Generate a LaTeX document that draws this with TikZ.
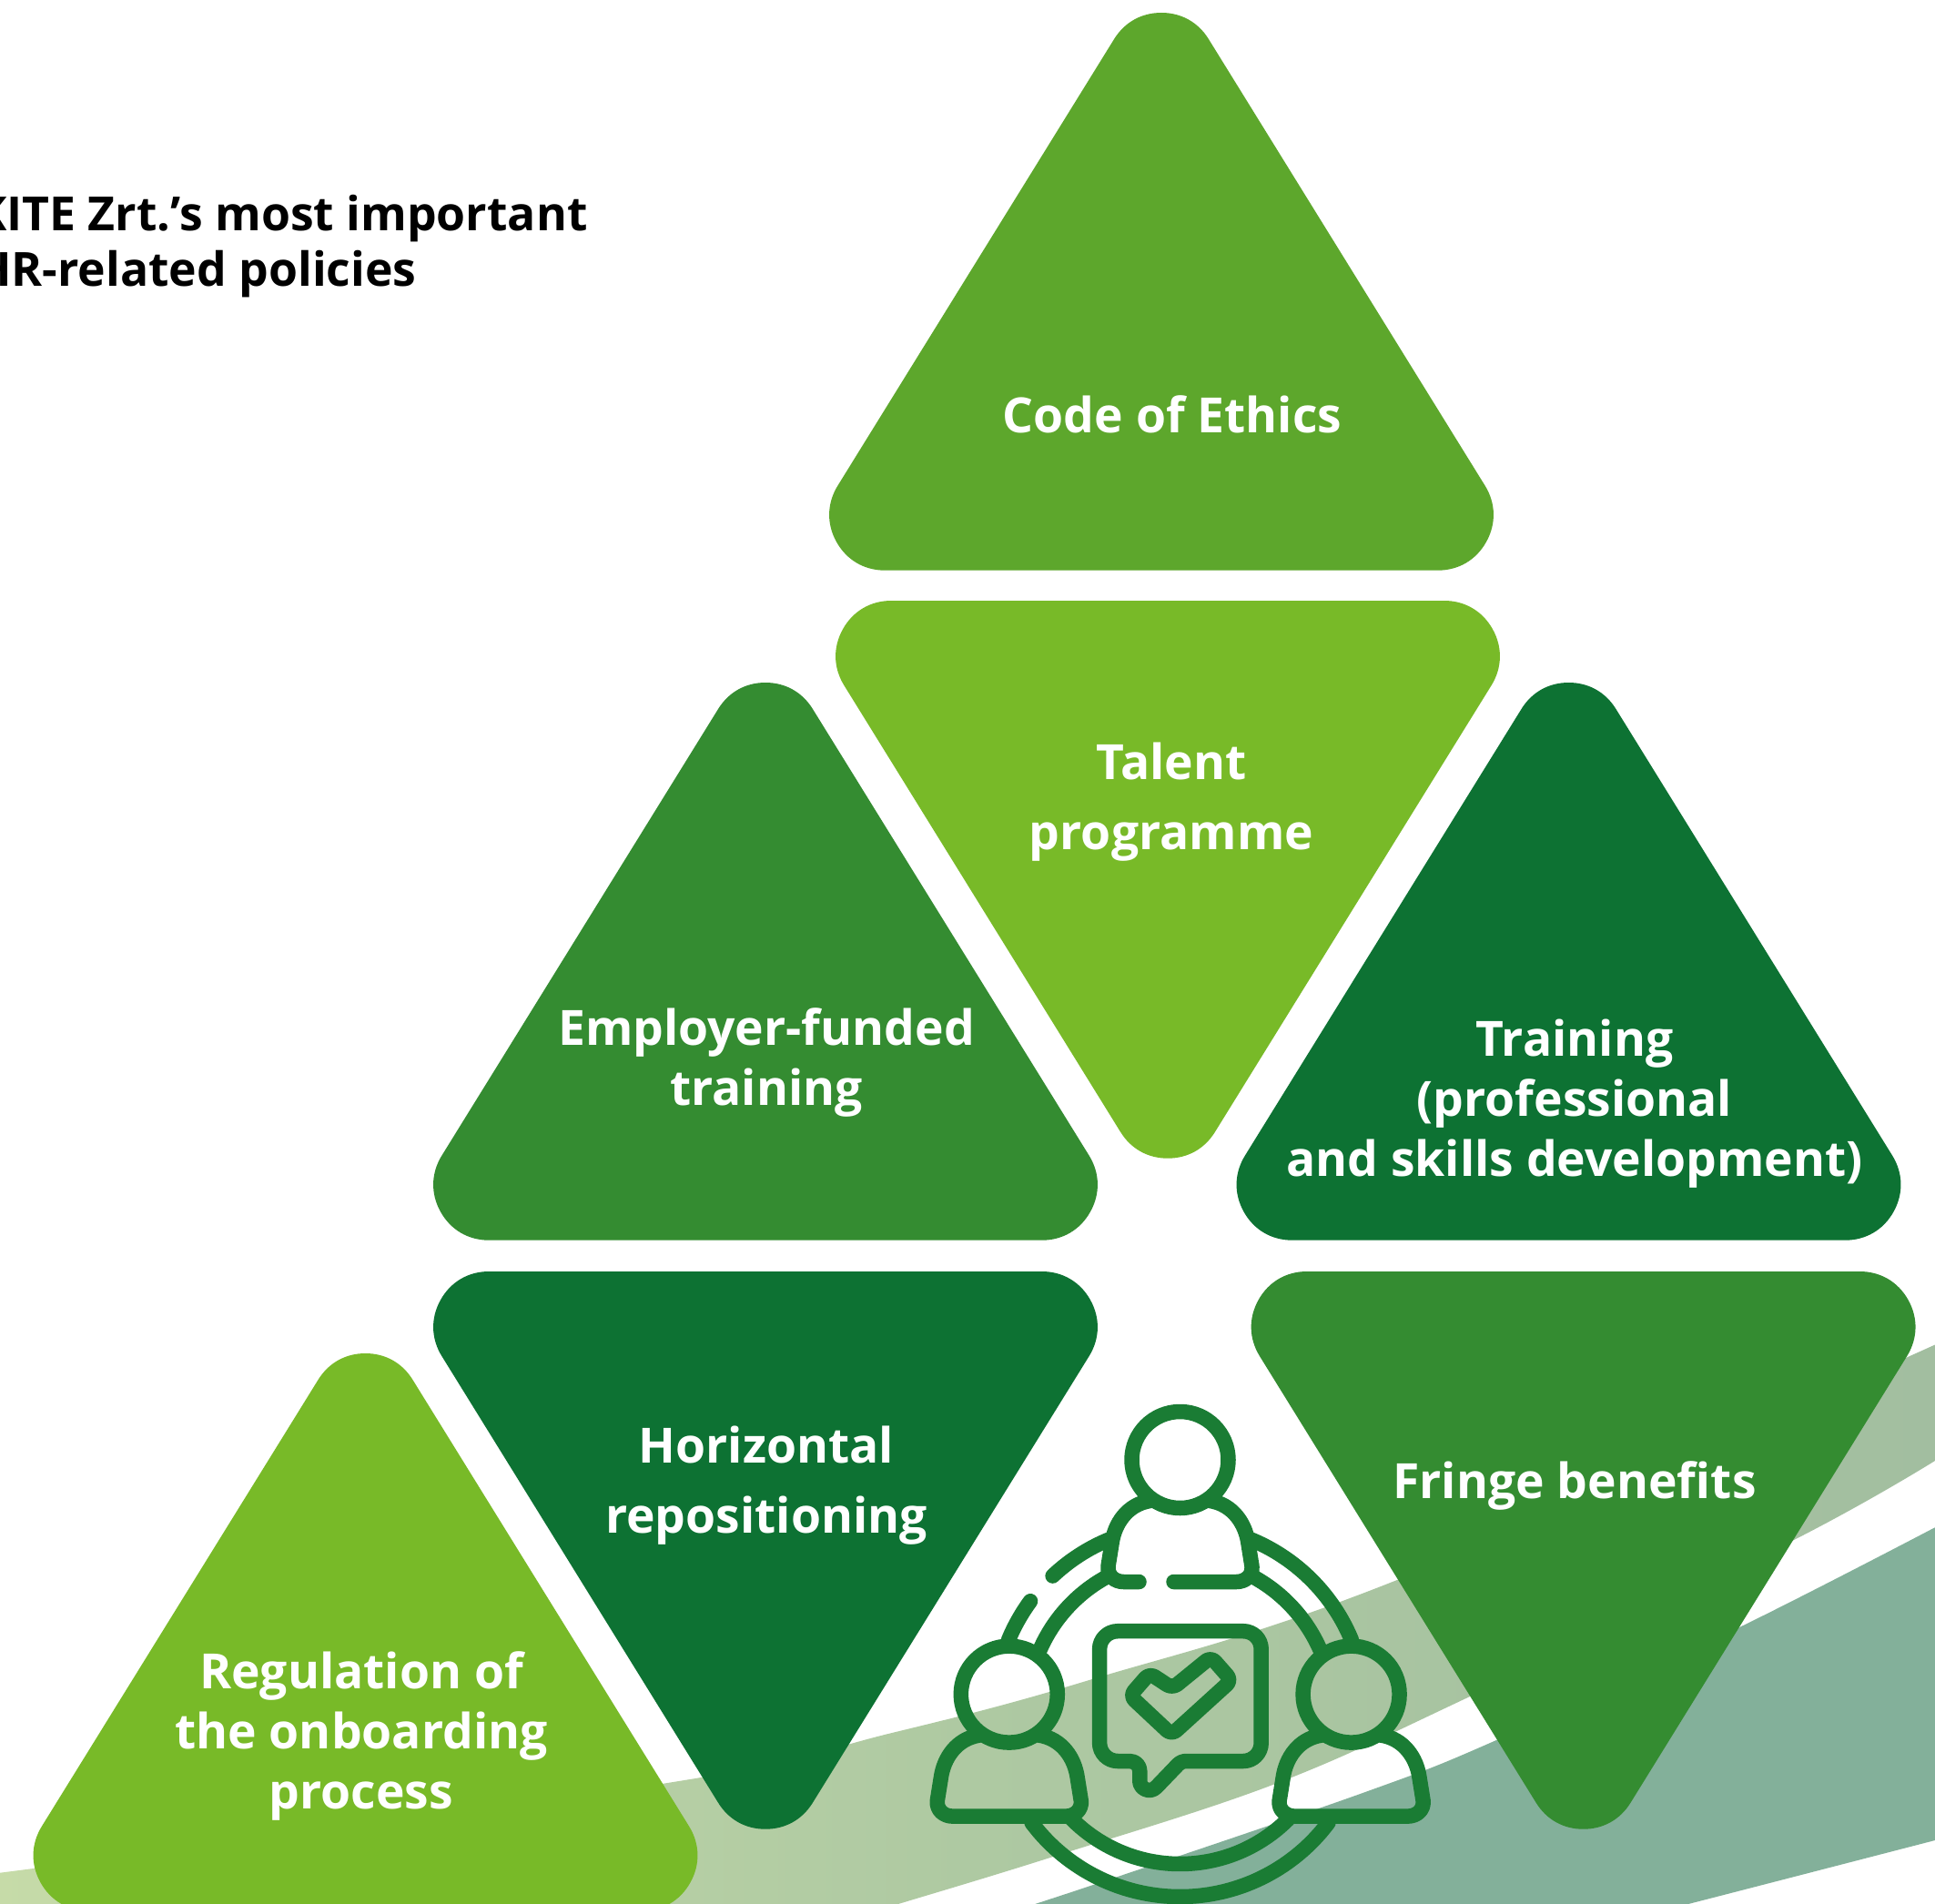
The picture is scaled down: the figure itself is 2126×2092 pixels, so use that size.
\documentclass[tikz,border=0pt]{standalone}
\usepackage{fontspec}
\setmainfont{Open Sans}[BoldFont={Open Sans Bold}]
\definecolor{cMid}{HTML}{5DA72C}
\definecolor{cLime}{HTML}{78BA28}
\definecolor{cGrass}{HTML}{348C31}
\definecolor{cDeep}{HTML}{0D7233}
\definecolor{cIcon}{HTML}{1A7C34}
\definecolor{cTeal}{HTML}{83B09A}
\definecolor{cBandL}{HTML}{C6DBA8}
\definecolor{cBandM}{HTML}{AEC9A2}
\definecolor{cBandR}{HTML}{A2BEA0}
\tikzset{
  trishape/.style={line width=122pt,line join=round},
  label/.style={text=white,font=\fontsize{53.4}{66}\bfseries\selectfont,align=center,inner sep=0pt},
  labelwide/.style={text=white,font=\fontsize{53.4}{77}\bfseries\selectfont,align=center,inner sep=0pt},
  titletext/.style={text=black,font=\fontsize{51.7}{61}\bfseries\selectfont,anchor=base west,inner sep=0pt},
  iconline/.style={draw=cIcon,line width=16.5pt,line cap=round,line join=round},
}
\newcommand{\uptri}[3]{\path[trishape,fill=#3,draw=#3] (#1,#2+61) -- (#1-303.7,#2+551.7) -- (#1+303.7,#2+551.7) -- cycle;}
\newcommand{\downtri}[3]{\path[trishape,fill=#3,draw=#3] (#1-303.7,#2+61) -- (#1+303.7,#2+61) -- (#1,#2+551.7) -- cycle;}
\newcommand{\ringarc}[3]{\draw[iconline] plot[smooth,domain=#2:#3,samples=30] ({1296.5+#1*cos(\x)},{1880+#1*sin(\x)});}
\begin{document}
\begin{tikzpicture}[x=1pt,y=-1pt]
\useasboundingbox (0,0) rectangle (2126,2092);
\clip (0,0) rectangle (2126,2092);
\fill[white] (0,0) rectangle (2126,2092);
% bands
\shade[left color=cBandL,right color=cBandR,middle color=cBandM]
  plot[smooth,tension=0.6] coordinates {(-10,2059) (727,1960) (980,1904) (1200,1845) (1535,1736) (2136,1473)}
  -- (2136,1599)
  -- plot[smooth,tension=0.6] coordinates {(2126,1605) (1969,1693) (1615,1864) (1401,1960) (1157,2040) (987,2092) (940,2106)}
  -- (-10,2106) -- cycle;
\fill[cTeal]
  plot[smooth,tension=0.6] coordinates {(1100,2104) (1228,2062) (1500,1969) (1644,1912) (1907,1790) (2136,1673)}
  -- (2136,2019)
  -- plot[smooth,tension=0.6] coordinates {(2126,2022) (1855,2092) (1790,2108)}
  -- cycle;
% triangles
\uptri{1276}{14}{cMid}
\downtri{1283}{660}{cLime}
\uptri{841}{750}{cGrass}
\uptri{1723.5}{750}{cDeep}
\downtri{841}{1397}{cDeep}
\downtri{1739.6}{1397}{cGrass}
\uptri{401.5}{1487}{cLime}
% icon: rings
\ringarc{168}{-61.2}{-23.4}
\ringarc{168}{-118.8}{-156.6}
\ringarc{168}{45}{135}
\ringarc{204}{-67.4}{-22.5}
\ringarc{204}{-112.6}{-133.3}
\ringarc{204}{-143.7}{-157.5}
\ringarc{204}{37}{143}
% icon: heads
\draw[iconline] (1296.5,1604) circle[radius=53];
\draw[iconline] (1108.8,1861.6) circle[radius=53];
\draw[iconline] (1484.6,1861.6) circle[radius=53];
% icon: bodies
\begin{scope}[shift={(1296.5,1604)}]
\draw[iconline] (-7,134) -- (62,134) .. controls (72,134) and (80,127) .. (79,117) -- (75,92) .. controls (72,70) and (58,49) .. (33,45);
\draw[iconline] (-45,134) -- (-62,134) .. controls (-72,134) and (-80,127) .. (-79,117) -- (-75,92) .. controls (-72,70) and (-58,49) .. (-33,45);
\end{scope}
\foreach \hx in {1108.8,1484.6}{
\begin{scope}[shift={(\hx,1861.6)}]
\draw[iconline] (33,45) .. controls (58,49) and (72,70) .. (75,92) -- (79,117) .. controls (80,127) and (72,134) .. (62,134) -- (-62,134) .. controls (-72,134) and (-80,127) .. (-79,117) -- (-75,92) .. controls (-72,70) and (-58,49) .. (-33,45);
\end{scope}}
% icon: speech bubble
\draw[iconline] (1228,1792.2) -- (1366,1792.2) .. controls (1377,1792.2) and (1385.7,1801) .. (1385.7,1812)
  -- (1385.7,1915) .. controls (1385.7,1926) and (1377,1935) .. (1366,1935)
  -- (1304,1935) .. controls (1300,1935) and (1297,1936) .. (1294,1939)
  -- (1270.4,1963.6) .. controls (1263,1971) and (1252.3,1965) .. (1252.3,1957)
  -- (1252.3,1946) .. controls (1252.3,1940) and (1248,1935) .. (1241,1935)
  -- (1228,1935) .. controls (1217,1935) and (1208.1,1926) .. (1208.1,1915)
  -- (1208.1,1812) .. controls (1208.1,1801) and (1217,1792.2) .. (1228,1792.2) -- cycle;
\draw[iconline,rounded corners=7pt] (1241.5,1863.2) -- (1263,1838.5) -- (1288.1,1855) -- (1330.5,1820.5) -- (1353,1846.2) -- (1287.2,1906) -- cycle;
% texts
\node[titletext] (title1) at (-27,254) {KITE Zrt.’s most important};
\node[titletext] (title2) at (-27,315) {HR-related policies};
\node[label] (ethics) at (1288,455) {Code of Ethics};
\node[labelwide] (talent) at (1287,881) {Talent\\programme};
\node[label] (employer) at (842,1167) {Employer-funded\\training};
\node[label] (training) at (1730,1213) {Training\\(professional\\and skills development)};
\node[labelwide] (horizontal) at (842,1632) {Horizontal\\repositioning};
\node[label] (fringe) at (1730,1632) {Fringe benefits};
\node[label] (regulation) at (397,1907) {Regulation of\\the onboarding\\process};
\end{tikzpicture}
\end{document}
